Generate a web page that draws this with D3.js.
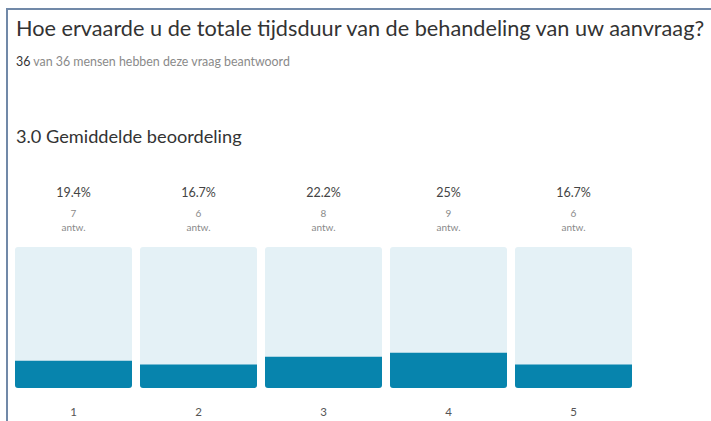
<!DOCTYPE html>
<html>
<head>
<meta charset="utf-8">
<script src="https://cdn.jsdelivr.net/npm/d3@7"></script>
<style>
	body { margin: 0; background: #fff; }
	svg { display: block; font-family: "Source Sans Pro", Lato, "Open Sans", sans-serif; }
</style>
</head>
<body>
<div id="chart"></div>
<script>
// Chart data
//---------------------------------------------------------------------------
var categories = ["1", "2", "3", "4", "5"];
var percentages = [19.4, 16.7, 22.2, 25, 16.7];
var percentLabels = ["19.4%", "16.7%", "22.2%", "25%", "16.7%"];
var counts = [7, 6, 8, 9, 6];

var title = "Hoe ervaarde u de totale tijdsduur van de behandeling van uw aanvraag?";
var answered = 36;
var total = 36;
var average = "3.0";

// Canvas
//---------------------------------------------------------------------------
var width = 711, height = 421;
var svg = d3.select("#chart").append("svg")
	.attr("width", width)
	.attr("height", height);

// panel border (top and left only visible)
svg.append("rect")
	.attr("x", 7)
	.attr("y", 9)
	.attr("width", 800)
	.attr("height", 500)
	.attr("fill", "none")
	.attr("stroke", "#7189a8")
	.attr("stroke-width", 2);

// header texts
svg.append("text")
	.attr("x", 16)
	.attr("y", 36)
	.attr("font-size", "21.7px")
	.attr("fill", "#333")
	.text(title);

var sub = svg.append("text")
	.attr("x", 16)
	.attr("y", 66)
	.attr("font-size", "12.4px")
	.attr("fill", "#8a8a8a");
sub.append("tspan").attr("fill", "#333").text(answered);
sub.append("tspan").text(" van " + total + " mensen hebben deze vraag beantwoord");

svg.append("text")
	.attr("x", 16)
	.attr("y", 143)
	.attr("font-size", "18.2px")
	.attr("fill", "#333")
	.text(average + " Gemiddelde beoordeling");

// Scales
//---------------------------------------------------------------------------
var x = d3.scaleBand()
	.domain(categories)
	.range([15, 632])
	.paddingInner(0.064);

var y = d3.scaleLinear()
	.domain([0, 100])
	.range([388, 247]);

var data = categories.map(function(c, i) {
	return { cat: c, pct: percentages[i], label: percentLabels[i], n: counts[i] };
});

// background bars
svg.selectAll("rect.bg")
	.data(data).enter()
	.append("rect")
	.attr("class", "bg")
	.attr("x", function(d) { return x(d.cat); })
	.attr("y", y(100))
	.attr("width", x.bandwidth())
	.attr("height", y(0) - y(100))
	.attr("rx", 3)
	.attr("fill", "#e4f1f6");

// value bars, rounded at the bottom only
svg.selectAll("path.val")
	.data(data).enter()
	.append("path")
	.attr("class", "val")
	.attr("fill", "#0784ad")
	.attr("d", function(d) {
		var x0 = x(d.cat), x1 = x0 + x.bandwidth();
		var y0 = y(d.pct), y1 = y(0), r = 3;
		return "M" + x0 + "," + y0 + "H" + x1 + "V" + (y1 - r)
			+ "Q" + x1 + "," + y1 + " " + (x1 - r) + "," + y1
			+ "H" + (x0 + r) + "Q" + x0 + "," + y1 + " " + x0 + "," + (y1 - r) + "Z";
	});

// labels above bars
var cx = function(d) { return x(d.cat) + x.bandwidth() / 2; };

svg.selectAll("text.pct")
	.data(data).enter()
	.append("text")
	.attr("x", cx)
	.attr("y", 197)
	.attr("text-anchor", "middle")
	.attr("font-size", "12.5px")
	.attr("fill", "#444")
	.text(function(d) { return d.label; });

svg.selectAll("text.cnt")
	.data(data).enter()
	.append("text")
	.attr("x", cx)
	.attr("y", 217)
	.attr("text-anchor", "middle")
	.attr("font-size", "10px")
	.attr("fill", "#8a8a8a")
	.text(function(d) { return d.n; });

svg.selectAll("text.antw")
	.data(data).enter()
	.append("text")
	.attr("x", cx)
	.attr("y", 231)
	.attr("text-anchor", "middle")
	.attr("font-size", "10px")
	.attr("fill", "#8a8a8a")
	.text("antw.");

// category axis labels
svg.selectAll("text.cat")
	.data(data).enter()
	.append("text")
	.attr("x", cx)
	.attr("y", 416)
	.attr("text-anchor", "middle")
	.attr("font-size", "11.5px")
	.attr("fill", "#555")
	.text(function(d) { return d.cat; });
</script>
</body>
</html>
